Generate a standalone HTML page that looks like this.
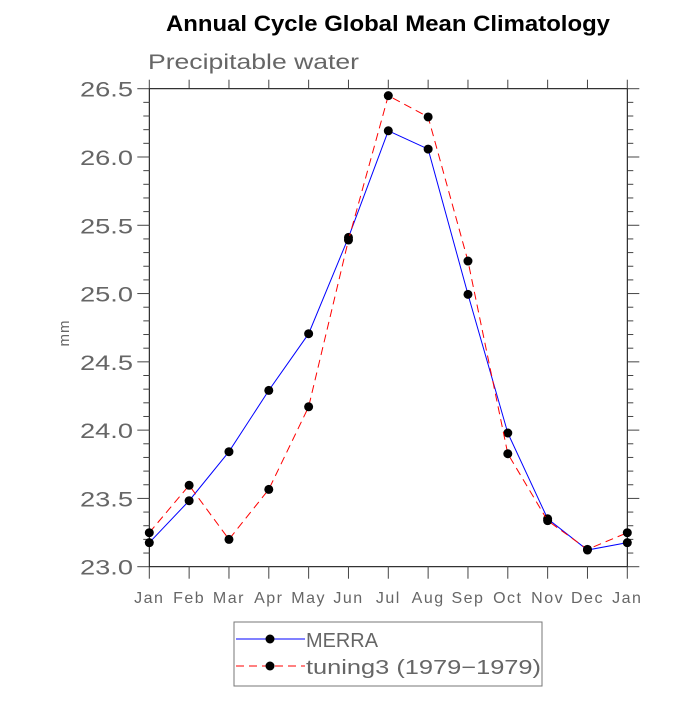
<!DOCTYPE html>
<html><head><meta charset="utf-8"><style>
body{margin:0;background:#fff;}
svg text{font-family:"Liberation Sans",sans-serif;}
</style></head><body>
<svg id="chart" width="700" height="700" xmlns="http://www.w3.org/2000/svg">
<rect width="700" height="700" fill="#fff"/>
<text x="166" y="31" font-size="22" font-weight="bold" textLength="444" lengthAdjust="spacingAndGlyphs">Annual Cycle Global Mean Climatology</text>
<text x="148" y="69" font-size="21" fill="#666" textLength="211" lengthAdjust="spacingAndGlyphs">Precipitable water</text>
<text transform="translate(69,333) rotate(-90)" text-anchor="middle" font-size="15" fill="#666" letter-spacing="1">mm</text>
<g id="axes"></g>
<g id="series"></g>
<g>
<rect x="234" y="622" width="308" height="64" fill="none" stroke="#777" stroke-width="1"/>
<line x1="236" y1="639" x2="305" y2="639" stroke="#0000ff" stroke-width="1"/>
<circle cx="270" cy="639" r="4.5" fill="#000"/>
<text x="306" y="647" font-size="20" fill="#666" textLength="72" lengthAdjust="spacingAndGlyphs">MERRA</text>
<line x1="236" y1="666" x2="305" y2="666" stroke="#ff0000" stroke-width="1" stroke-dasharray="8,5"/>
<circle cx="270" cy="666" r="4.5" fill="#000"/>
<text x="306" y="674" font-size="20" fill="#666" textLength="235" lengthAdjust="spacingAndGlyphs">tuning3 (1979−1979)</text>
</g>
</svg>
<script>
const months=["Jan","Feb","Mar","Apr","May","Jun","Jul","Aug","Sep","Oct","Nov","Dec","Jan"];
const merra=[23.176,23.483,23.842,24.291,24.706,25.411,26.192,26.058,24.994,23.979,23.351,23.122,23.176];
const tuning3=[23.249,23.596,23.20,23.566,24.171,25.392,26.449,26.293,25.238,23.827,23.337,23.127,23.249];
const yTicks=[23.0,23.5,24.0,24.5,25.0,25.5,26.0,26.5];
const yTickLabels=["23.0","23.5","24.0","24.5","25.0","25.5","26.0","26.5"];
const L=149.3,R=627.3,T=88.7,B=566.7,ymin=23,ymax=26.5;
const xs=i=>L+(R-L)*i/(months.length-1);
const ys=v=>B-(B-T)*(v-ymin)/(ymax-ymin);
const NS="http://www.w3.org/2000/svg";
function mk(tag,at,parent){const e=document.createElementNS(NS,tag);for(const k in at)e.setAttribute(k,at[k]);parent.appendChild(e);return e;}
const ax=document.getElementById('axes');
const frame=mk('rect',{x:L,y:T,width:R-L,height:B-T,fill:'none',stroke:'#000','stroke-width':1},ax);


for(let v=ymin;v<=ymax+1e-9;v+=0.1){
  const y=ys(v);const major=Math.abs(v*2-Math.round(v*2))<1e-6;
  const len=major?12:6;
  mk('line',{x1:L-len,y1:y,x2:L,y2:y,stroke:'#444','stroke-width':1},ax);
  mk('line',{x1:R,y1:y,x2:R+len,y2:y,stroke:'#444','stroke-width':1},ax);
}
yTicks.forEach((v,i)=>{
  const t=mk('text',{x:80,y:ys(v)+8,'font-size':21,fill:'#666',textLength:53,lengthAdjust:'spacingAndGlyphs'},ax);
  t.textContent=yTickLabels[i];
  
  
});
months.forEach((m,i)=>{
  const x=xs(i);
  mk('line',{x1:x,y1:B,x2:x,y2:B+12,stroke:'#444','stroke-width':1},ax);
  mk('line',{x1:x,y1:T-9,x2:x,y2:T,stroke:'#444','stroke-width':1},ax);
  const t=mk('text',{x:x,y:603,'text-anchor':'middle','font-size':16,fill:'#666','letter-spacing':1.5},ax);
  t.textContent=m;
  
  
});
const sg=document.getElementById('series');
function draw(vals,color,dash,name){
  const pts=vals.map((v,i)=>xs(i)+','+ys(v)).join(' ');
  const pl=mk('polyline',{points:pts,fill:'none',stroke:color,'stroke-width':1,'stroke-dasharray':dash},sg);
  
  
  vals.forEach((v,i)=>{
    const c=mk('circle',{cx:xs(i),cy:ys(v),r:4.5,fill:'#000'},sg);
    
    
  });
}
draw(merra,'#0000ff','none','merra');
draw(tuning3,'#ff0000','8,5','tuning3');
</script>
</body></html>
